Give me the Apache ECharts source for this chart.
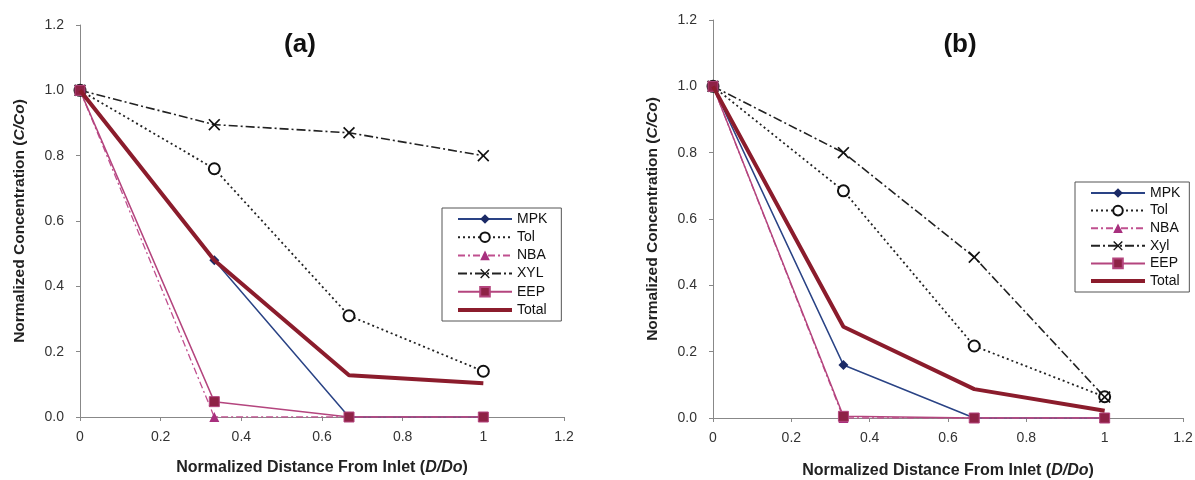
<!DOCTYPE html>
<html><head><meta charset="utf-8">
<script src="https://cdn.jsdelivr.net/npm/echarts@6/dist/echarts.min.js"></script>
<style>html,body{margin:0;padding:0;background:#fff;}#c{width:1195px;height:480px;}</style>
</head><body><div id="c"></div>
<script>
// Data
const xVals = [0, 0.333, 0.667, 1];
const xTicks = [0, 0.2, 0.4, 0.6, 0.8, 1, 1.2];
const yTicks = [0, 0.2, 0.4, 0.6, 0.8, 1.0, 1.2];
const legendA = ['MPK', 'Tol', 'NBA', 'XYL', 'EEP', 'Total'];
const legendB = ['MPK', 'Tol', 'NBA', 'Xyl', 'EEP', 'Total'];
const a_MPK   = [1.0, 0.48, 0.0, 0.0];
const a_Tol   = [1.0, 0.76, 0.31, 0.14];
const a_NBA   = [1.0, 0.0, 0.0, 0.0];
const a_XYL   = [1.0, 0.895, 0.87, 0.80];
const a_EEP   = [1.0, 0.047, 0.0, 0.0];
const a_Total = [1.0, 0.48, 0.128, 0.103];
const b_MPK   = [1.0, 0.16, 0.0, 0.0];
const b_Tol   = [1.0, 0.685, 0.217, 0.064];
const b_NBA   = [1.0, 0.0, 0.0, 0.0];
const b_Xyl   = [1.0, 0.80, 0.485, 0.063];
const b_EEP   = [1.0, 0.005, 0.0, 0.0];
const b_Total = [1.0, 0.275, 0.087, 0.022];

const pairs = ys => xVals.map((x, i) => [x, ys[i]]);
const XPATH = 'path://M1,0 L5,4 L9,0 L10,1 L6,5 L10,9 L9,10 L5,6 L1,10 L0,9 L4,5 L0,1 Z';

function styles(name) {
  switch (name) {
    case 'MPK': return {symbol:'diamond', symbolSize:10, itemStyle:{color:'#1b2a66'}, lineStyle:{color:'#2a4385', width:1.5, type:'solid'}};
    case 'Tol': return {symbol:'emptyCircle', symbolSize:11, itemStyle:{color:'#111', borderColor:'#111', borderWidth:1.6}, lineStyle:{color:'#222', width:1.8, type:[2,3]}};
    case 'NBA': return {symbol:'triangle', symbolSize:10, itemStyle:{color:'#a8307e'}, lineStyle:{color:'#c0508f', width:1.3, type:[7,3,2,3]}};
    case 'XYL': case 'Xyl': return {symbol:XPATH, symbolSize:12, itemStyle:{color:'#111'}, lineStyle:{color:'#222', width:1.6, type:[9,3,2,3]}};
    case 'EEP': return {symbol:'rect', symbolSize:10, itemStyle:{color:'#8e2246', borderColor:'#b4457e', borderWidth:1}, lineStyle:{color:'#b4457e', width:1.5, type:'solid'}};
    case 'Total': return {symbol:'none', showSymbol:false, itemStyle:{color:'#8b1c2c'}, lineStyle:{color:'#8b1c2c', width:4, type:'solid'}};
  }
}

function mk(name, ys, idx) {
  return Object.assign({
    type:'line', name:name, xAxisIndex:idx, yAxisIndex:idx,
    data: pairs(ys), animation:false, z: name==='Total'?3:2,
    emphasis:{disabled:true}
  }, styles(name));
}

const axisLabelStyle = {color:'#333', fontSize:14, fontFamily:'Liberation Sans, Arial'};
function xAxis(gi, gap) {
  return {
    type:'value', gridIndex:gi, min:0, max:1.2, interval:0.2,
    axisLine:{lineStyle:{color:'#888', width:1}},
    axisTick:{show:true, length:4, lineStyle:{color:'#888'}},
    splitLine:{show:false},
    axisLabel:Object.assign({margin:13, formatter: v => String(+v.toFixed(1))}, axisLabelStyle),
    name:'Normalized Distance From Inlet ({i|D/Do})', nameLocation:'middle', nameGap:gap,
    nameTextStyle:{fontSize:16, fontWeight:'bold', color:'#222', fontFamily:'Liberation Sans, Arial',
      rich:{i:{fontSize:16, fontWeight:'bold', fontStyle:'italic', color:'#222', fontFamily:'Liberation Sans, Arial'}}}
  };
}
function yAxis(gi) {
  return {
    type:'value', gridIndex:gi, min:0, max:1.2, interval:0.2,
    axisLine:{show:true, lineStyle:{color:'#888', width:1}},
    axisTick:{show:true, length:4, lineStyle:{color:'#888'}},
    splitLine:{show:false},
    axisLabel:Object.assign({margin:16, formatter: v => v.toFixed(1)}, axisLabelStyle),
    name:'Normalized Concentration ({i|C/Co})', nameLocation:'middle', nameGap:52,
    nameTextStyle:{fontSize:15.5, fontWeight:'bold', color:'#222', fontFamily:'Liberation Sans, Arial',
      rich:{i:{fontSize:15.5, fontWeight:'bold', fontStyle:'italic', color:'#222', fontFamily:'Liberation Sans, Arial'}}}
  };
}
function legendData(names) {
  return names.map(n => n === 'Total'
    ? {name:n, itemStyle:{opacity:0}, lineStyle:{width:4, color:'#8b1c2c'}}
    : n);
}
function legend(data, left, top, rowGap, padR) {
  return {
    orient:'vertical', left:left, top:top, data:legendData(data),
    borderColor:'#555', borderWidth:1, borderRadius:0,
    padding:[4, padR, 4, 14], itemWidth:54, itemHeight:12, itemGap:rowGap,
    textStyle:{color:'#111', fontSize:14, lineHeight:14, fontFamily:'Liberation Sans, Arial'},
    backgroundColor:'#fff', selectedMode:false
  };
}

const chart = echarts.init(document.getElementById('c'), null, {renderer:'canvas'});
chart.setOption({
  backgroundColor:'#fff',
  animation:false,
  grid:[
    {left:80, right:631, top:25, bottom:63, containLabel:false, outerBoundsMode:'none'},
    {left:713, right:12, top:20, bottom:62, containLabel:false, outerBoundsMode:'none'}
  ],
  xAxis:[xAxis(0, 43), xAxis(1, 45)],
  yAxis:[yAxis(0), yAxis(1)],
  legend:[
    legend(legendA, 442, 208, 4.2, 14),
    legend(legendB, 1075, 182, 3.6, 9)
  ],
  graphic:[
    {type:'text', style:{text:'(a)', x:300, y:45, align:'center', verticalAlign:'middle', font:'bold 26px Liberation Sans, Arial', fill:'#111'}},
    {type:'text', style:{text:'(b)', x:960, y:45, align:'center', verticalAlign:'middle', font:'bold 26px Liberation Sans, Arial', fill:'#111'}}
  ],
  series:[
    mk('MPK', a_MPK, 0), mk('Tol', a_Tol, 0), mk('NBA', a_NBA, 0), mk('XYL', a_XYL, 0), mk('EEP', a_EEP, 0), mk('Total', a_Total, 0),
    mk('MPK', b_MPK, 1), mk('Tol', b_Tol, 1), mk('NBA', b_NBA, 1), mk('Xyl', b_Xyl, 1), mk('EEP', b_EEP, 1), mk('Total', b_Total, 1)
  ]
});
</script></body></html>
